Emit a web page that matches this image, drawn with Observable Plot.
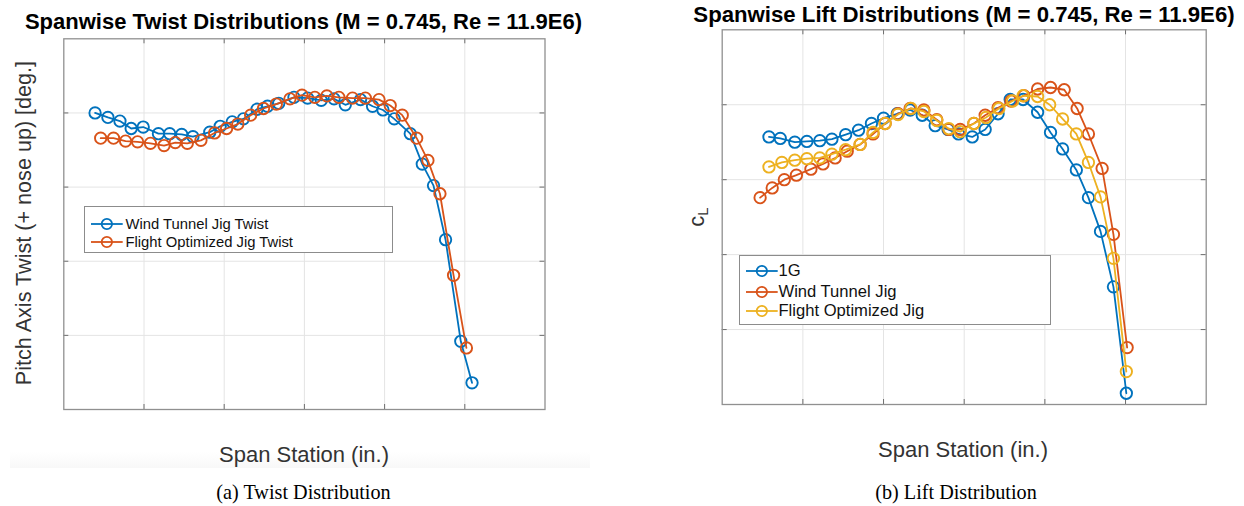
<!DOCTYPE html>
<html>
<head>
<meta charset="utf-8">
<script src="https://cdn.jsdelivr.net/npm/d3@7"></script>
<script src="https://cdn.jsdelivr.net/npm/@observablehq/plot@0.6"></script>
<style>
  html, body { margin: 0; padding: 0; background: #fff; }
  #root { position: relative; width: 1244px; height: 506px; overflow: hidden; font-family: "Liberation Sans", Arial, Helvetica, sans-serif; }
  .abs { position: absolute; white-space: nowrap; }
  .title { font-weight: bold; color: #000; text-align: center; }
  .xlabel { color: #333; text-align: center; }
  .caption { font-family: "Liberation Serif", "Times New Roman", serif; color: #000; text-align: center; }
  .legend { position: absolute; background: #fff; border: 1px solid #8c8c8c; box-sizing: border-box; }
  .legend .row { position: absolute; left: 0; display: flex; align-items: center; }
  .legend .row span { color: #111; }
  svg.panel { position: absolute; top: 0; }
</style>
</head>
<body>
<div id="root"></div>
<script>
// ---------- Data (grid units; the original chart shows no tick values) ----------
// Left panel: Spanwise twist
const twistWindTunnelX = [0.39,0.55,0.70,0.84,0.99,1.18,1.32,1.47,1.61,1.82,1.95,2.10,2.24,2.41,2.54,2.68,2.87,3.04,3.21,3.37,3.51,3.70,3.85,3.98,4.12,4.32,4.47,4.61,4.76,4.95,5.09];
const twistWindTunnelY = [4.00,3.94,3.89,3.79,3.81,3.72,3.72,3.71,3.68,3.74,3.82,3.88,3.92,4.05,4.09,4.13,4.21,4.20,4.17,4.19,4.11,4.18,4.09,4.04,3.92,3.72,3.31,3.02,2.29,0.92,0.36];
const twistFlightOptX = [0.46,0.62,0.77,0.92,1.08,1.25,1.39,1.54,1.71,1.88,2.03,2.17,2.33,2.49,2.65,2.82,2.97,3.13,3.28,3.43,3.60,3.76,3.93,4.07,4.22,4.40,4.54,4.69,4.86,5.02];
const twistFlightOptY = [3.66,3.66,3.62,3.61,3.59,3.56,3.60,3.59,3.63,3.73,3.79,3.85,3.97,4.06,4.12,4.19,4.24,4.21,4.23,4.21,4.20,4.20,4.18,4.10,3.97,3.66,3.36,2.91,1.81,0.83];

// Right panel: Spanwise lift
const lift1GX = [0.58,0.72,0.90,1.05,1.21,1.36,1.53,1.69,1.85,2.00,2.17,2.33,2.48,2.64,2.80,2.93,3.10,3.26,3.42,3.57,3.73,3.91,4.07,4.22,4.39,4.54,4.69,4.85,5.01];
const lift1GY = [3.57,3.55,3.50,3.51,3.52,3.54,3.60,3.66,3.75,3.82,3.88,3.93,3.86,3.72,3.67,3.61,3.57,3.67,3.88,4.07,4.07,3.90,3.63,3.41,3.13,2.76,2.31,1.57,0.15];
const liftWindTunnelX = [0.47,0.62,0.77,0.92,1.10,1.25,1.40,1.55,1.71,1.87,2.02,2.18,2.33,2.50,2.66,2.81,2.95,3.12,3.26,3.42,3.58,3.74,3.91,4.07,4.24,4.40,4.54,4.71,4.85,5.02];
const liftWindTunnelY = [2.76,2.89,3.00,3.06,3.14,3.21,3.29,3.38,3.47,3.61,3.75,3.88,3.95,3.93,3.80,3.67,3.67,3.75,3.86,3.96,4.05,4.12,4.21,4.23,4.20,3.95,3.61,3.15,2.27,0.76];
const liftFlightOptX = [0.58,0.74,0.90,1.05,1.21,1.36,1.53,1.71,1.87,2.02,2.18,2.34,2.50,2.66,2.81,2.95,3.12,3.27,3.43,3.60,3.73,3.91,4.06,4.22,4.39,4.54,4.69,4.85,5.01];
const liftFlightOptY = [3.17,3.23,3.26,3.28,3.29,3.34,3.40,3.47,3.63,3.75,3.87,3.95,3.91,3.79,3.68,3.64,3.75,3.83,3.95,4.05,4.12,4.11,4.00,3.81,3.61,3.23,2.77,1.95,0.44];

const xGridTicks = [1, 2, 3, 4, 5];
const yGridTicks = [1, 2, 3, 4];

const twistNames = ["Wind Tunnel Jig Twist", "Flight Optimized Jig Twist"];
const liftNames = ["1G", "Wind Tunnel Jig", "Flight Optimized Jig"];
const matlabBlue = "#0072BD", matlabOrange = "#D95319", matlabYellow = "#EDB120";

// ---------- Helpers ----------
const toRows = (xs, ys) => xs.map((x, i) => ({x, y: ys[i]}));

function panel({width, height, ml, mr, mt, mb, series}) {
  const fh = height - mt - mb, fw = width - ml - mr;
  const tickLen = 5, tickColor = "#6e6e6e";
  const marks = [
    Plot.ruleX(xGridTicks, {x: d => d, stroke: "#e4e4e4", strokeWidth: 1}),
    Plot.ruleY(yGridTicks, {y: d => d, stroke: "#e4e4e4", strokeWidth: 1}),
    Plot.tickX(xGridTicks, {x: d => d, insetTop: fh - tickLen, stroke: tickColor}),
    Plot.tickX(xGridTicks, {x: d => d, insetBottom: fh - tickLen, stroke: tickColor}),
    Plot.tickY(yGridTicks, {y: d => d, insetRight: fw - tickLen, stroke: tickColor}),
    Plot.tickY(yGridTicks, {y: d => d, insetLeft: fw - tickLen, stroke: tickColor}),
    Plot.frame({stroke: "#909090", strokeWidth: 1.3})
  ];
  for (const s of series) {
    marks.push(Plot.line(s.data, {x: "x", y: "y", stroke: s.color, strokeWidth: 1.8}));
    marks.push(Plot.dot(s.data, {x: "x", y: "y", r: 5.7, stroke: s.color, strokeWidth: 1.9, fill: "none"}));
  }
  const svg = Plot.plot({
    width, height,
    marginLeft: ml, marginRight: mr, marginTop: mt, marginBottom: mb,
    x: {domain: [0, 6], axis: null},
    y: {domain: [0, 5], axis: null},
    style: {background: "transparent", overflow: "visible"},
    marks
  });
  svg.classList.add("panel");
  return svg;
}

function addText(root, cls, text, cx, cy, size, extra = {}) {
  const d = document.createElement("div");
  d.className = "abs " + cls;
  d.textContent = text;
  const lh = Math.round(size * 1.2);
  Object.assign(d.style, {
    left: (cx - 450) + "px", width: "900px", top: (cy - lh / 2) + "px",
    fontSize: size + "px", lineHeight: lh + "px"
  }, extra);
  root.appendChild(d);
  return d;
}

function legend(root, {left, top, width, height, rows, rowCenters, lineX0, lineX1, textX, fontSize}) {
  const box = document.createElement("div");
  box.className = "legend";
  Object.assign(box.style, {left: left + "px", top: top + "px", width: width + "px", height: height + "px"});
  rows.forEach((r, i) => {
    const row = document.createElement("div");
    row.className = "row";
    const lh = 20;
    row.style.top = (rowCenters[i] - top - lh / 2) + "px";
    row.style.height = lh + "px";
    const w = lineX1 - lineX0;
    const ns = "http://www.w3.org/2000/svg";
    const sw = document.createElementNS(ns, "svg");
    sw.setAttribute("width", w + 4);
    sw.setAttribute("height", lh);
    sw.style.position = "absolute";
    sw.style.left = (lineX0 - left - 2) + "px";
    sw.style.top = "0px";
    const ln = document.createElementNS(ns, "line");
    ln.setAttribute("x1", 2); ln.setAttribute("x2", w + 2);
    ln.setAttribute("y1", lh / 2); ln.setAttribute("y2", lh / 2);
    ln.setAttribute("stroke", r.color); ln.setAttribute("stroke-width", 1.8);
    const c = document.createElementNS(ns, "circle");
    c.setAttribute("cx", w / 2 + 2); c.setAttribute("cy", lh / 2); c.setAttribute("r", 5.2);
    c.setAttribute("fill", "none"); c.setAttribute("stroke", r.color); c.setAttribute("stroke-width", 1.8);
    sw.appendChild(ln); sw.appendChild(c);
    row.appendChild(sw);
    const t = document.createElement("span");
    t.textContent = r.name;
    Object.assign(t.style, {position: "absolute", left: (textX - left) + "px", top: "0px", lineHeight: lh + "px", fontSize: fontSize + "px", whiteSpace: "nowrap"});
    row.appendChild(t);
    box.appendChild(row);
  });
  root.appendChild(box);
}

// ---------- Build ----------
const root = document.getElementById("root");

// very faint band under left panel (as in the source image)
const band = document.createElement("div");
Object.assign(band.style, {position: "absolute", left: "10px", top: "452px", width: "580px", height: "16px",
  background: "linear-gradient(to bottom, rgba(250,250,250,0), rgba(248,248,248,1))"});
root.appendChild(band);

const leftSvg = panel({
  width: 620, height: 506, ml: 63.3, mr: 620 - 544.5, mt: 38.3, mb: 506 - 409,
  series: [
    {data: toRows(twistWindTunnelX, twistWindTunnelY), color: matlabBlue},
    {data: toRows(twistFlightOptX, twistFlightOptY), color: matlabOrange}
  ]
});
leftSvg.style.left = "0px";
root.appendChild(leftSvg);

const rightSvg = panel({
  width: 624, height: 506, ml: 721.7 - 620, mr: 1244 - 1205.7, mt: 29.3, mb: 506 - 404,
  series: [
    {data: toRows(lift1GX, lift1GY), color: matlabBlue},
    {data: toRows(liftWindTunnelX, liftWindTunnelY), color: matlabOrange},
    {data: toRows(liftFlightOptX, liftFlightOptY), color: matlabYellow}
  ]
});
rightSvg.style.left = "620px";
root.appendChild(rightSvg);

// Titles
addText(root, "title", "Spanwise Twist Distributions (M = 0.745, Re = 11.9E6)", 303.5, 22, 22);
addText(root, "title", "Spanwise Lift Distributions (M = 0.745, Re = 11.9E6)", 964, 14.5, 22.2);

// Axis labels
addText(root, "xlabel", "Span Station (in.)", 304, 455, 22);
addText(root, "xlabel", "Span Station (in.)", 963, 450, 22);

const yl = addText(root, "xlabel", "Pitch Axis Twist (+ nose up) [deg.]", 24, 223, 21.6);
yl.style.transform = "rotate(-90deg)";

const cl = document.createElement("div");
cl.className = "abs xlabel";
cl.innerHTML = 'c<sub style="font-size:15px;vertical-align:-4px;">L</sub>';
Object.assign(cl.style, {left: "650px", width: "100px", top: (214 - 13) + "px", fontSize: "22px", lineHeight: "26px", transform: "rotate(-90deg)"});
root.appendChild(cl);

// Captions
addText(root, "caption", "(a) Twist Distribution", 303.5, 491.5, 20.2);
addText(root, "caption", "(b) Lift Distribution", 956, 491.5, 20.2);

// Legends
legend(root, {
  left: 84.3, top: 205.7, width: 309, height: 47,
  rows: [{name: twistNames[0], color: matlabBlue}, {name: twistNames[1], color: matlabOrange}],
  rowCenters: [222.7, 240.7], lineX0: 90, lineX1: 121.7, textX: 124.5, fontSize: 14.8
});
legend(root, {
  left: 739.3, top: 255, width: 311.5, height: 69.5,
  rows: [{name: liftNames[0], color: matlabBlue}, {name: liftNames[1], color: matlabOrange}, {name: liftNames[2], color: matlabYellow}],
  rowCenters: [270, 290.5, 310], lineX0: 745, lineX1: 776.7, textX: 777.5, fontSize: 16.6
});
</script>
</body>
</html>
